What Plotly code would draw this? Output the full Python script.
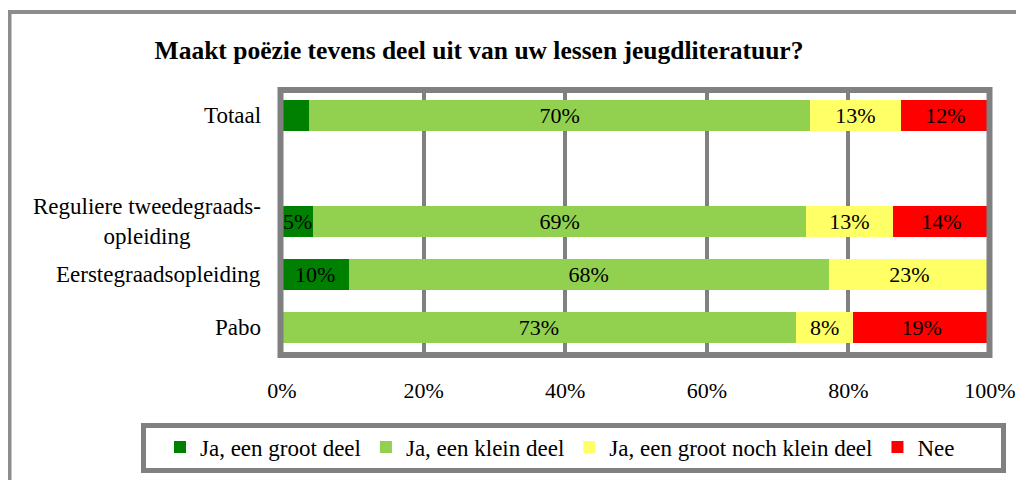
import plotly.graph_objects as go

categories = ["Totaal", " ", "Reguliere tweedegraads-<br>opleiding", "Eerstegraadsopleiding", "Pabo"]
series_names = ["Ja, een groot deel", "Ja, een klein deel", "Ja, een groot noch klein deel", "Nee"]
groot = [3.8, 0, 4.4, 9.4, 0]
klein = [70.8, 0, 69.6, 67.8, 72.6]
noch = [12.8, 0, 12.3, 22.8, 8.1]
nee = [12.6, 0, 13.7, 0, 19.3]
groot_labels = ["", "", "5%", "10%", ""]
klein_labels = ["70%", "", "69%", "68%", "73%"]
noch_labels = ["13%", "", "13%", "23%", "8%"]
nee_labels = ["12%", "", "14%", "", "19%"]
colors = ["#008000", "#92D050", "#FFFF66", "#FF0000"]
x_ticks = [0, 20, 40, 60, 80, 100]
x_ticktext = ["0%", "20%", "40%", "60%", "80%", "100%"]
title = "Maakt poëzie tevens deel uit van uw lessen jeugdliteratuur?"

FONT = "Liberation Serif"
OFF = 8  # page body margin: figure origin sits at (8, 8) in the window
W, H = 1024, 480
L, T = 282 - OFF, 89 - OFF
R = W - (990 - OFF)
B = H - (354 - OFF)
pw, ph = W - L - R, H - T - B

def px(x):
    # window x -> paper x
    return (x - OFF - L) / pw

def py(y):
    # window y -> paper y
    return (H - B - (y - OFF)) / ph

fig = go.Figure()
for name, vals, labels, col in zip(series_names, [groot, klein, noch, nee],
                                   [groot_labels, klein_labels, noch_labels, nee_labels], colors):
    fig.add_trace(go.Bar(
        y=categories, x=vals, name=name, orientation="h",
        marker=dict(color=col, line=dict(width=0)),
        text=labels, textposition="inside", insidetextanchor="middle",
        textfont=dict(family=FONT, size=22, color="black"),
        width=0.58, hoverinfo="x+name",
    ))

annotations = []
for c in categories:
    if c.strip():
        annotations.append(dict(
            x=px(263), xref="paper", y=c, yref="y", text=c, showarrow=False,
            xanchor="right", yanchor="middle", align="center",
            font=dict(family=FONT, size=23, color="black"),
        ))

shapes = [
    # plot area frame
    dict(type="rect", xref="paper", yref="paper", x0=px(280.5), x1=px(989.5), y0=py(355), y1=py(90),
         line=dict(color="#808080", width=6), layer="above"),
    # legend frame
    dict(type="rect", xref="paper", yref="paper", x0=px(143.5), x1=px(1003.5), y0=py(470.5), y1=py(425.5),
         line=dict(color="#808080", width=5), layer="above"),
    # outer chart frame
    dict(type="rect", xref="paper", yref="paper", x0=px(9.5), x1=px(1060), y0=py(520), y1=py(12),
         line=dict(color="#8c8c8c", width=4), layer="above"),
]

fig.update_layout(
    width=W, height=H,
    margin=dict(l=L, r=R, t=T, b=B),
    paper_bgcolor="white", plot_bgcolor="white",
    barmode="stack",
    showlegend=True,
    title=dict(text="<b>" + title + "</b>", xref="container", x=(479 - OFF) / W, xanchor="center",
               yref="container", y=1 - (50 - OFF) / H, yanchor="middle",
               font=dict(family=FONT, size=25.5, color="black")),
    legend=dict(orientation="h", xref="paper", yref="paper", x=px(160), xanchor="left",
                y=py(447), yanchor="middle", bgcolor="rgba(0,0,0,0)",
                font=dict(family=FONT, size=23, color="black"), traceorder="normal"),
    uniformtext=dict(minsize=22, mode="show"),
    annotations=annotations,
    shapes=shapes,
    font=dict(family=FONT, color="black"),
)
fig.update_xaxes(range=[0, 100], tickvals=x_ticks, ticktext=x_ticktext,
                 showgrid=True, gridcolor="#808080", gridwidth=4, zeroline=False,
                 ticks="outside", ticklen=17, tickcolor="rgba(0,0,0,0)",
                 tickfont=dict(family=FONT, size=22, color="black"), showline=False, fixedrange=True)
fig.update_yaxes(type="category", categoryorder="array", categoryarray=categories,
                 range=[len(categories) - 0.5, -0.5], showticklabels=False, showgrid=False,
                 zeroline=False, showline=False, ticks="", fixedrange=True)

fig.write_html("out.html")
